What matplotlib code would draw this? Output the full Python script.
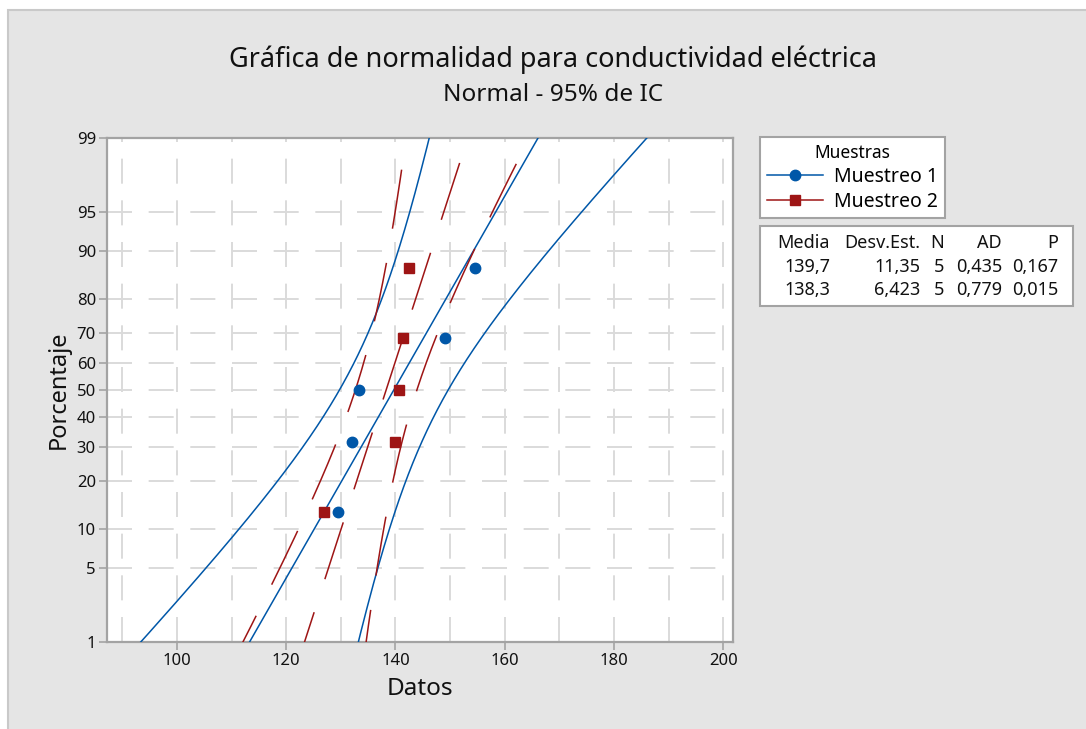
import numpy as np
import matplotlib.pyplot as plt
from matplotlib.patches import Rectangle
from matplotlib.lines import Line2D
from statistics import NormalDist

plt.rcParams['font.family'] = ['Noto Sans', 'DejaVu Sans']
plt.rcParams['lines.scale_dashes'] = False

# ###########################################
# Data
# ###########################################
series_names = ['Muestreo 1', 'Muestreo 2']
muestreo_1 = [129.5, 132.0, 133.4, 149.0, 154.6]
muestreo_2 = [127.0, 140.0, 140.7, 141.3, 142.5]
media = [139.7, 138.3]
desv_est = [11.35, 6.423]
n_obs = [5, 5]
media_txt = ['139,7', '138,3']
desv_txt = ['11,35', '6,423']
ad_txt = ['0,435', '0,779']
p_txt = ['0,167', '0,015']
y_ticks_pct = [1, 5, 10, 20, 30, 40, 50, 60, 70, 80, 90, 95, 99]
x_ticks = [100, 120, 140, 160, 180, 200]

colors = ['#0057A8', '#9E1515']
markers = ['o', 's']

nd = NormalDist()
z_of = np.vectorize(nd.inv_cdf)


def median_ranks(n):
    # Benard approximation used by Minitab
    return (np.arange(1, n + 1) - 0.3) / (n + 0.4)


# ###########################################
# Figure
# ###########################################
W, H = 1086, 729
fig = plt.figure(figsize=(W / 100, H / 100), dpi=100, facecolor='white')

# background panel (pixel coords)
ax_bg = fig.add_axes([0, 0, 1, 1], zorder=-1)
ax_bg.set_xlim(0, W)
ax_bg.set_ylim(H, 0)
ax_bg.axis('off')
ax_bg.add_patch(Rectangle((8, 10), W, H, facecolor='#E5E5E5', edgecolor='#C9C9C9', lw=1.5))

ax = fig.add_axes([107 / W, 1 - 642 / H, 626 / W, 504 / H])
ax.set_facecolor('white')

p_curve = np.linspace(0.005, 0.995, 400)
z_curve = z_of(p_curve)

for k, data in enumerate([muestreo_1, muestreo_2]):
    mu, s, n = media[k], desv_est[k], n_obs[k]
    fit = mu + s * z_curve
    half = 1.96 * s * np.sqrt(1 / n + z_curve ** 2 / (2 * n - 1))
    ls = '-' if k == 0 else (0, (43, 25))
    for curve in [fit, fit - half, fit + half]:
        ax.plot(curve, z_curve, color=colors[k], lw=1.1, ls=ls, zorder=3)
    ax.plot(np.sort(data), z_of(median_ranks(len(data))), ls='none', marker=markers[k],
            ms=7.5, color=colors[k], zorder=4)

ax.set_xlim(87.2, 201.8)
ax.set_ylim(z_of(0.01), z_of(0.99))
ax.set_xticks(x_ticks)
ax.set_xticks(np.arange(90, 201, 10), minor=True)
ax.set_yticks(z_of(np.array(y_ticks_pct) / 100))
ax.set_yticklabels([str(p) for p in y_ticks_pct])

grid_style = dict(color='#DADADA', lw=1.4, ls=(0, (18, 12)))
ax.grid(which='both', axis='x', **grid_style)
ax.grid(which='major', axis='y', **grid_style)
ax.set_axisbelow(True)

for sp in ax.spines.values():
    sp.set_color('#A3A3A3')
    sp.set_linewidth(1.6)
ax.tick_params(which='major', direction='out', length=6, width=1.2, color='#A3A3A3',
               labelsize=12, labelcolor='#111111', pad=2)
ax.tick_params(which='minor', length=0)

ax.set_xlabel('Datos', fontsize=17.5, color='#111111', labelpad=6)
ax.set_ylabel('Porcentaje', fontsize=17, color='#111111', labelpad=4)

fig.text(0.509, 1 - 60 / H, 'Gráfica de normalidad para conductividad eléctrica',
         ha='center', va='center', fontsize=19.5, color='#111111')
fig.text(0.509, 1 - 95 / H, 'Normal - 95% de IC', ha='center', va='center',
         fontsize=17.5, color='#111111')

# legend
handles = [Line2D([], [], color=colors[k], marker=markers[k], ms=7.5, lw=1.1)
           for k in range(2)]
leg = fig.legend(handles, series_names, title='Muestras', loc='upper left',
                 bbox_to_anchor=(760 / W, 1 - 137 / H), frameon=True, fancybox=False,
                 edgecolor='#A3A3A3', framealpha=1, fontsize=14, title_fontsize=12.5,
                 handlelength=2.9, numpoints=1, borderpad=0.35, labelspacing=0.25,
                 handletextpad=0.55, borderaxespad=0)
leg.get_frame().set_linewidth(1.5)
leg.get_frame().set_width(194)

# statistics table
ax_bg.add_patch(Rectangle((760, 226), 313, 80, facecolor='white', edgecolor='#A3A3A3', lw=1.5))
col_right = [830, 920, 944, 1002, 1058]
headers = ['Media', 'Desv.Est.', 'N', 'AD', 'P']
rows_y = [243, 267, 290]
for c, h in enumerate(headers):
    ax_bg.text(col_right[c], rows_y[0], h, ha='right', va='center', fontsize=13, color='#111111')
for r in range(2):
    vals = [media_txt[r], desv_txt[r], str(n_obs[r]), ad_txt[r], p_txt[r]]
    for c, v in enumerate(vals):
        ax_bg.text(col_right[c], rows_y[r + 1], v, ha='right', va='center', fontsize=13,
                   color='#111111')

plt.savefig('out.png', dpi=100)
